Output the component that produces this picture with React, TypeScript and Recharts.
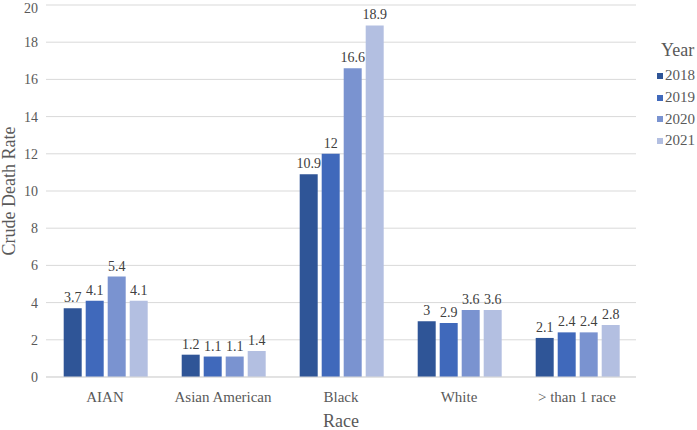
import { Bar, BarChart, CartesianGrid, LabelList, XAxis, YAxis } from "recharts";

const races = ["AIAN", "Asian American", "Black", "White", "> than 1 race"];
const years = ["2018", "2019", "2020", "2021"];
const rate2018 = [3.7, 1.2, 10.9, 3, 2.1];
const rate2019 = [4.1, 1.1, 12, 2.9, 2.4];
const rate2020 = [5.4, 1.1, 16.6, 3.6, 2.4];
const rate2021 = [4.1, 1.4, 18.9, 3.6, 2.8];
const yTicks = [0, 2, 4, 6, 8, 10, 12, 14, 16, 18, 20];

const COLORS = ["#2f5597", "#4069bb", "#7a93d0", "#b3bfe1"];
const FONT = "Liberation Serif";

const data = races.map((race, i) => ({
  race,
  y2018: rate2018[i],
  y2019: rate2019[i],
  y2020: rate2020[i],
  y2021: rate2021[i],
}));

export default function App() {
  return (
    <div style={{ position: "absolute", left: 0, top: 0, width: 697, height: 430, fontFamily: FONT, background: "#fff" }}>
      <BarChart
        width={697}
        height={430}
        data={data}
        margin={{ top: 5, right: 61, bottom: 0, left: 0 }}
        barCategoryGap="15%"
        barGap={4}
        style={{ fontFamily: FONT }}
      >
        <CartesianGrid vertical={false} stroke="#d9d9d9" />
        <XAxis
          dataKey="race"
          height={53}
          axisLine={{ stroke: "#d9d9d9" }}
          tickLine={false}
          tick={{ fill: "#595959", fontSize: 15, fontFamily: FONT }}
          tickMargin={8}
          label={{ value: "Race", position: "insideBottom", offset: 3, fill: "#595959", fontSize: 18, fontFamily: FONT }}
        />
        <YAxis
          width={46}
          domain={[0, 20]}
          ticks={yTicks}
          axisLine={false}
          tickLine={false}
          tick={{ fill: "#595959", fontSize: 14, fontFamily: FONT }}
          tickMargin={2}
          label={{ value: "Crude Death Rate", angle: -90, position: "insideLeft", offset: 9, fill: "#595959", fontSize: 18, fontFamily: FONT, style: { textAnchor: "middle" } }}
        />
        {years.map((yr, i) => (
          <Bar key={yr} dataKey={`y${yr}`} fill={COLORS[i]} isAnimationActive={false}>
            <LabelList dataKey={`y${yr}`} position="top" fill="#404040" fontSize={14} fontFamily={FONT} offset={6} />
          </Bar>
        ))}
      </BarChart>
      <div style={{ position: "absolute", left: 657, top: 40, color: "#595959", fontSize: 18 }}>
        <div style={{ marginLeft: 4, marginBottom: 5, lineHeight: "20px" }}>Year</div>
        {years.map((yr, i) => (
          <div key={yr} style={{ display: "flex", alignItems: "center", height: 21.7, fontSize: 15 }}>
            <span style={{ width: 6, height: 6, background: COLORS[i], marginRight: 2, display: "inline-block" }} />
            {yr}
          </div>
        ))}
      </div>
    </div>
  );
}
